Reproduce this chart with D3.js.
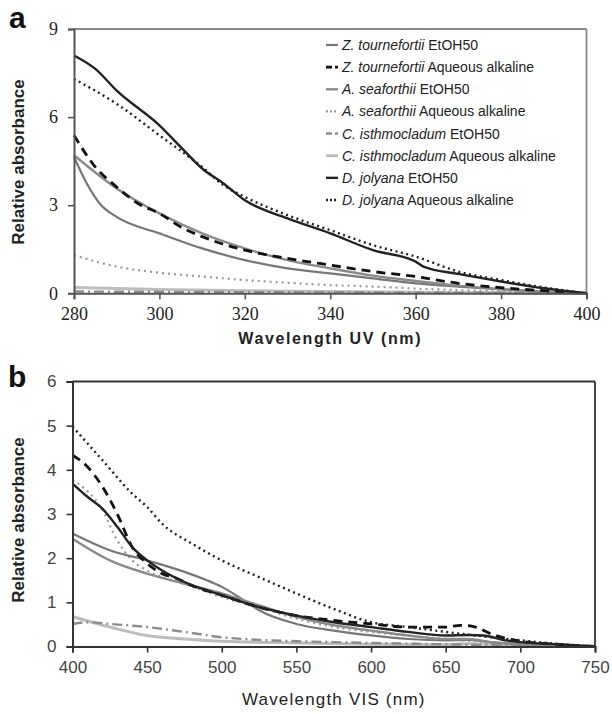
<!DOCTYPE html>
<html lang="en">
<head>
<meta charset="UTF-8">
<title>Relative absorbance UV / VIS</title>
<script src="https://d3js.org/d3.v7.min.js"></script>
<style>
  body { margin: 0; background: #fff; }
  svg { display: block; }
</style>
</head>
<body>
<script>
// ---- data ----
const seriesNames = [
  ["Z. tournefortii", "EtOH50"],
  ["Z. tournefortii", "Aqueous alkaline"],
  ["A. seaforthii", "EtOH50"],
  ["A. seaforthii", "Aqueous alkaline"],
  ["C. isthmocladum", "EtOH50"],
  ["C. isthmocladum", "Aqueous alkaline"],
  ["D. jolyana", "EtOH50"],
  ["D. jolyana", "Aqueous alkaline"]
];

// panel a, UV
const uvTicksX = [280, 300, 320, 340, 360, 380, 400];
const uvTicksY = [0, 3, 6, 9];
const uvZtEtoh = [[280,4.64],[283,3.74],[286,3.06],[290,2.6],[300,2.04],[310,1.53],[320,1.13],[330,0.85],[340,0.68],[350,0.51],[360,0.34],[370,0.23],[380,0.14],[390,0.05],[400,0]];
const uvZtAq   = [[280,5.38],[285,4.3],[290,3.62],[295,3.06],[300,2.72],[305,2.26],[310,1.93],[320,1.47],[330,1.19],[340,0.96],[350,0.74],[360,0.57],[370,0.34],[380,0.19],[390,0.09],[400,0]];
const uvAsEtoh = [[280,4.7],[290,3.57],[300,2.72],[310,2.04],[320,1.53],[330,1.13],[340,0.85],[350,0.6],[360,0.42],[370,0.26],[380,0.14],[390,0.06],[400,0]];
const uvAsAq   = [[280,1.3],[290,0.91],[300,0.7],[310,0.57],[320,0.45],[330,0.36],[340,0.28],[350,0.23],[360,0.16],[370,0.11],[380,0.06],[390,0.02],[400,0]];
const uvCiEtoh = [[280,0.06],[300,0.05],[320,0.04],[340,0.03],[360,0.02],[380,0.01],[400,0]];
const uvCiAq   = [[280,0.2],[300,0.13],[320,0.09],[340,0.06],[360,0.04],[380,0.02],[400,0]];
const uvDjEtoh = [[280,8.1],[285,7.64],[290,6.9],[300,5.72],[305,4.98],[310,4.25],[315,3.74],[320,3.17],[330,2.55],[340,2.04],[350,1.47],[360,1.08],[362,0.9],[370,0.66],[380,0.4],[390,0.17],[400,0]];
const uvDjAq   = [[280,7.3],[290,6.45],[300,5.38],[310,4.3],[315,3.68],[320,3.28],[330,2.66],[340,2.15],[350,1.64],[360,1.25],[370,0.74],[380,0.45],[390,0.2],[400,0]];

// panel b, VIS
const visTicksX = [400, 450, 500, 550, 600, 650, 700, 750];
const visTicksY = [0, 1, 2, 3, 4, 5, 6];
const visZtEtoh = [[400,2.56],[425,2.18],[450,1.95],[475,1.69],[490,1.5],[500,1.35],[515,1.04],[525,0.82],[550,0.51],[575,0.36],[600,0.25],[625,0.17],[650,0.14],[665,0.15],[680,0.1],[700,0.05],[750,0]];
const visZtAq   = [[400,4.33],[410,4.07],[420,3.62],[430,3.0],[440,2.25],[450,1.88],[460,1.65],[470,1.54],[480,1.38],[500,1.16],[525,0.89],[550,0.7],[575,0.59],[600,0.51],[625,0.44],[650,0.44],[660,0.48],[670,0.44],[680,0.29],[700,0.12],[725,0.05],[750,0]];
const visAsEtoh = [[400,2.44],[425,1.95],[450,1.65],[475,1.42],[500,1.2],[525,0.93],[550,0.67],[575,0.48],[600,0.36],[625,0.25],[650,0.17],[665,0.17],[680,0.1],[700,0.05],[750,0]];
const visAsAq   = [[400,3.77],[420,3.09],[430,2.4],[440,1.95],[450,1.72],[475,1.42],[500,1.12],[525,0.89],[550,0.63],[575,0.44],[600,0.33],[650,0.17],[700,0.06],[750,0]];
const visCiEtoh = [[400,0.51],[410,0.55],[425,0.51],[450,0.44],[475,0.33],[500,0.21],[525,0.15],[550,0.12],[600,0.08],[650,0.05],[700,0.02],[750,0]];
const visCiAq   = [[400,0.68],[425,0.44],[450,0.25],[475,0.17],[500,0.12],[550,0.08],[600,0.05],[650,0.04],[665,0.06],[700,0.02],[750,0]];
const visDjEtoh = [[400,3.69],[410,3.39],[420,3.12],[430,2.71],[440,2.25],[450,1.95],[460,1.72],[475,1.46],[500,1.16],[525,0.89],[550,0.7],[575,0.55],[600,0.44],[625,0.33],[650,0.25],[665,0.26],[675,0.25],[690,0.14],[700,0.1],[725,0.05],[750,0]];
const visDjAq   = [[400,4.98],[420,4.22],[440,3.46],[450,3.16],[460,2.78],[480,2.33],[500,1.95],[525,1.57],[550,1.2],[575,0.85],[600,0.55],[625,0.44],[650,0.33],[675,0.23],[700,0.14],[725,0.06],[750,0]];

const uvSeries  = [uvZtEtoh, uvZtAq, uvAsEtoh, uvAsAq, uvCiEtoh, uvCiAq, uvDjEtoh, uvDjAq];
const visSeries = [visZtEtoh, visZtAq, visAsEtoh, visAsAq, visCiEtoh, visCiAq, visDjEtoh, visDjAq];

// line styles, same order as seriesNames
const styles = [
  { color: "#777", width: 2.2, dash: null },
  { color: "#111", width: 2.8, dash: "9,6" },
  { color: "#8a8a8a", width: 2.4, dash: null },
  { color: "#999", width: 2.2, dash: "2,4" },
  { color: "#8c8c8c", width: 2.4, dash: "10,4,2,4" },
  { color: "#bdbdbd", width: 3, dash: null },
  { color: "#222", width: 2.4, dash: null },
  { color: "#222", width: 2.4, dash: "2,3.5" }
];

const svg = d3.select("body").append("svg")
  .attr("width", 612).attr("height", 714);

function drawPanel(opt) {
  const x = d3.scaleLinear().domain(opt.xDomain).range([opt.left, opt.right]);
  const y = d3.scaleLinear().domain(opt.yDomain).range([opt.bottom, opt.top]);
  const g = svg.append("g");

  // frame
  g.append("line").attr("x1", opt.left).attr("x2", opt.right)
    .attr("y1", opt.top).attr("y2", opt.top)
    .attr("stroke", opt.frameColor).attr("stroke-width", 1.8);
  g.append("line").attr("x1", opt.right).attr("x2", opt.right)
    .attr("y1", opt.top).attr("y2", opt.bottom)
    .attr("stroke", opt.frameColor).attr("stroke-width", 1.8);

  const line = d3.line()
    .x(d => x(d[0])).y(d => y(d[1]))
    .curve(d3.curveMonotoneX);

  // draw lighter lines first so the black ones sit on top
  const order = [5, 4, 3, 0, 2, 1, 7, 6];
  order.forEach(i => {
    const s = styles[i];
    g.append("path")
      .datum(opt.series[i])
      .attr("d", line)
      .attr("fill", "none")
      .attr("stroke", s.color)
      .attr("stroke-width", s.width)
      .attr("stroke-dasharray", s.dash)
      .attr("stroke-linejoin", "round");
  });

  const xAxis = g.append("g")
    .attr("transform", `translate(0,${opt.bottom})`)
    .call(d3.axisBottom(x).tickValues(opt.xTicks).tickSize(6).tickPadding(8).tickFormat(d3.format("d")));
  const yAxis = g.append("g")
    .attr("transform", `translate(${opt.left},0)`)
    .call(d3.axisLeft(y).tickValues(opt.yTicks).tickSize(6).tickPadding(10).tickFormat(d3.format("d")));

  [xAxis, yAxis].forEach(a => {
    a.attr("font-family", opt.tickFont);
    a.select(".domain").attr("stroke", opt.axisColor).attr("stroke-width", 2);
    a.selectAll(".tick line").attr("stroke", opt.axisColor).attr("stroke-width", 1.6);
    a.selectAll(".tick text")
      .style("font-family", opt.tickFont)
      .attr("font-size", opt.tickSize)
      .attr("fill", opt.tickColor);
  });

  // titles
  svg.append("text")
    .attr("x", (opt.left + opt.right) / 2).attr("y", opt.xTitleY)
    .attr("text-anchor", "middle")
    .attr("font-family", "Liberation Sans, Arial, sans-serif")
    .attr("font-size", opt.xTitleSize)
    .attr("font-weight", opt.xTitleWeight)
    .attr("letter-spacing", opt.xTitleSpacing)
    .attr("fill", "#222")
    .text(opt.xTitle);

  svg.append("text")
    .attr("transform", `translate(24,${opt.yTitleY}) rotate(-90)`)
    .attr("text-anchor", "middle")
    .attr("font-family", "Liberation Sans, Arial, sans-serif")
    .attr("font-size", 17)
    .attr("font-weight", "bold")
    .attr("fill", "#222")
    .text("Relative absorbance");

  svg.append("text")
    .attr("x", opt.letterX).attr("y", opt.letterY)
    .attr("font-family", "Liberation Sans, Arial, sans-serif")
    .attr("font-size", 30)
    .attr("font-weight", "bold")
    .attr("fill", "#111")
    .text(opt.letter);

  return { x, y, g };
}

const panelA = drawPanel({
  series: uvSeries, xDomain: [280, 400], yDomain: [0, 9],
  left: 74, right: 586.5, top: 29, bottom: 293.3,
  xTicks: uvTicksX, yTicks: uvTicksY,
  frameColor: "#888", axisColor: "#555",
  tickFont: "'Liberation Serif', 'DejaVu Serif', serif", tickSize: 18, tickColor: "#222",
  xTitle: "Wavelength  UV (nm)", xTitleY: 344, xTitleSize: 16, xTitleWeight: "bold", xTitleSpacing: 1.6,
  yTitleY: 162, letter: "a", letterX: 9, letterY: 28
});

const panelB = drawPanel({
  series: visSeries, xDomain: [400, 750], yDomain: [0, 6],
  left: 72.5, right: 595, top: 381.5, bottom: 646.5,
  xTicks: visTicksX, yTicks: visTicksY,
  frameColor: "#333", axisColor: "#333",
  tickFont: "'Liberation Sans', Arial, sans-serif", tickSize: 17, tickColor: "#444",
  xTitle: "Wavelength VIS (nm)", xTitleY: 705, xTitleSize: 17, xTitleWeight: "normal", xTitleSpacing: 1.2,
  yTitleY: 520, letter: "b", letterX: 8, letterY: 387
});

// legend in panel a
const legend = svg.append("g").attr("transform", "translate(326,0)");
const legendY = d3.scalePoint().domain(d3.range(seriesNames.length)).range([45, 200]);
seriesNames.forEach((n, i) => {
  const s = styles[i];
  const yy = legendY(i);
  legend.append("line")
    .attr("x1", 0).attr("x2", 12).attr("y1", yy).attr("y2", yy)
    .attr("stroke", s.color).attr("stroke-width", s.width)
    .attr("stroke-dasharray", s.dash === "2,4" || s.dash === "2,3.5" ? "2,2" : (s.dash ? "6,3" : null));
  const t = legend.append("text")
    .attr("transform", `translate(16,${yy + 5}) scale(0.965,1)`)
    .attr("font-family", "'Liberation Sans', Arial, sans-serif")
    .attr("font-size", 14.5)
    .attr("fill", "#222");
  t.append("tspan").attr("font-style", "italic").text(n[0]);
  t.append("tspan").text(" " + n[1]);
});
</script>
</body>
</html>
